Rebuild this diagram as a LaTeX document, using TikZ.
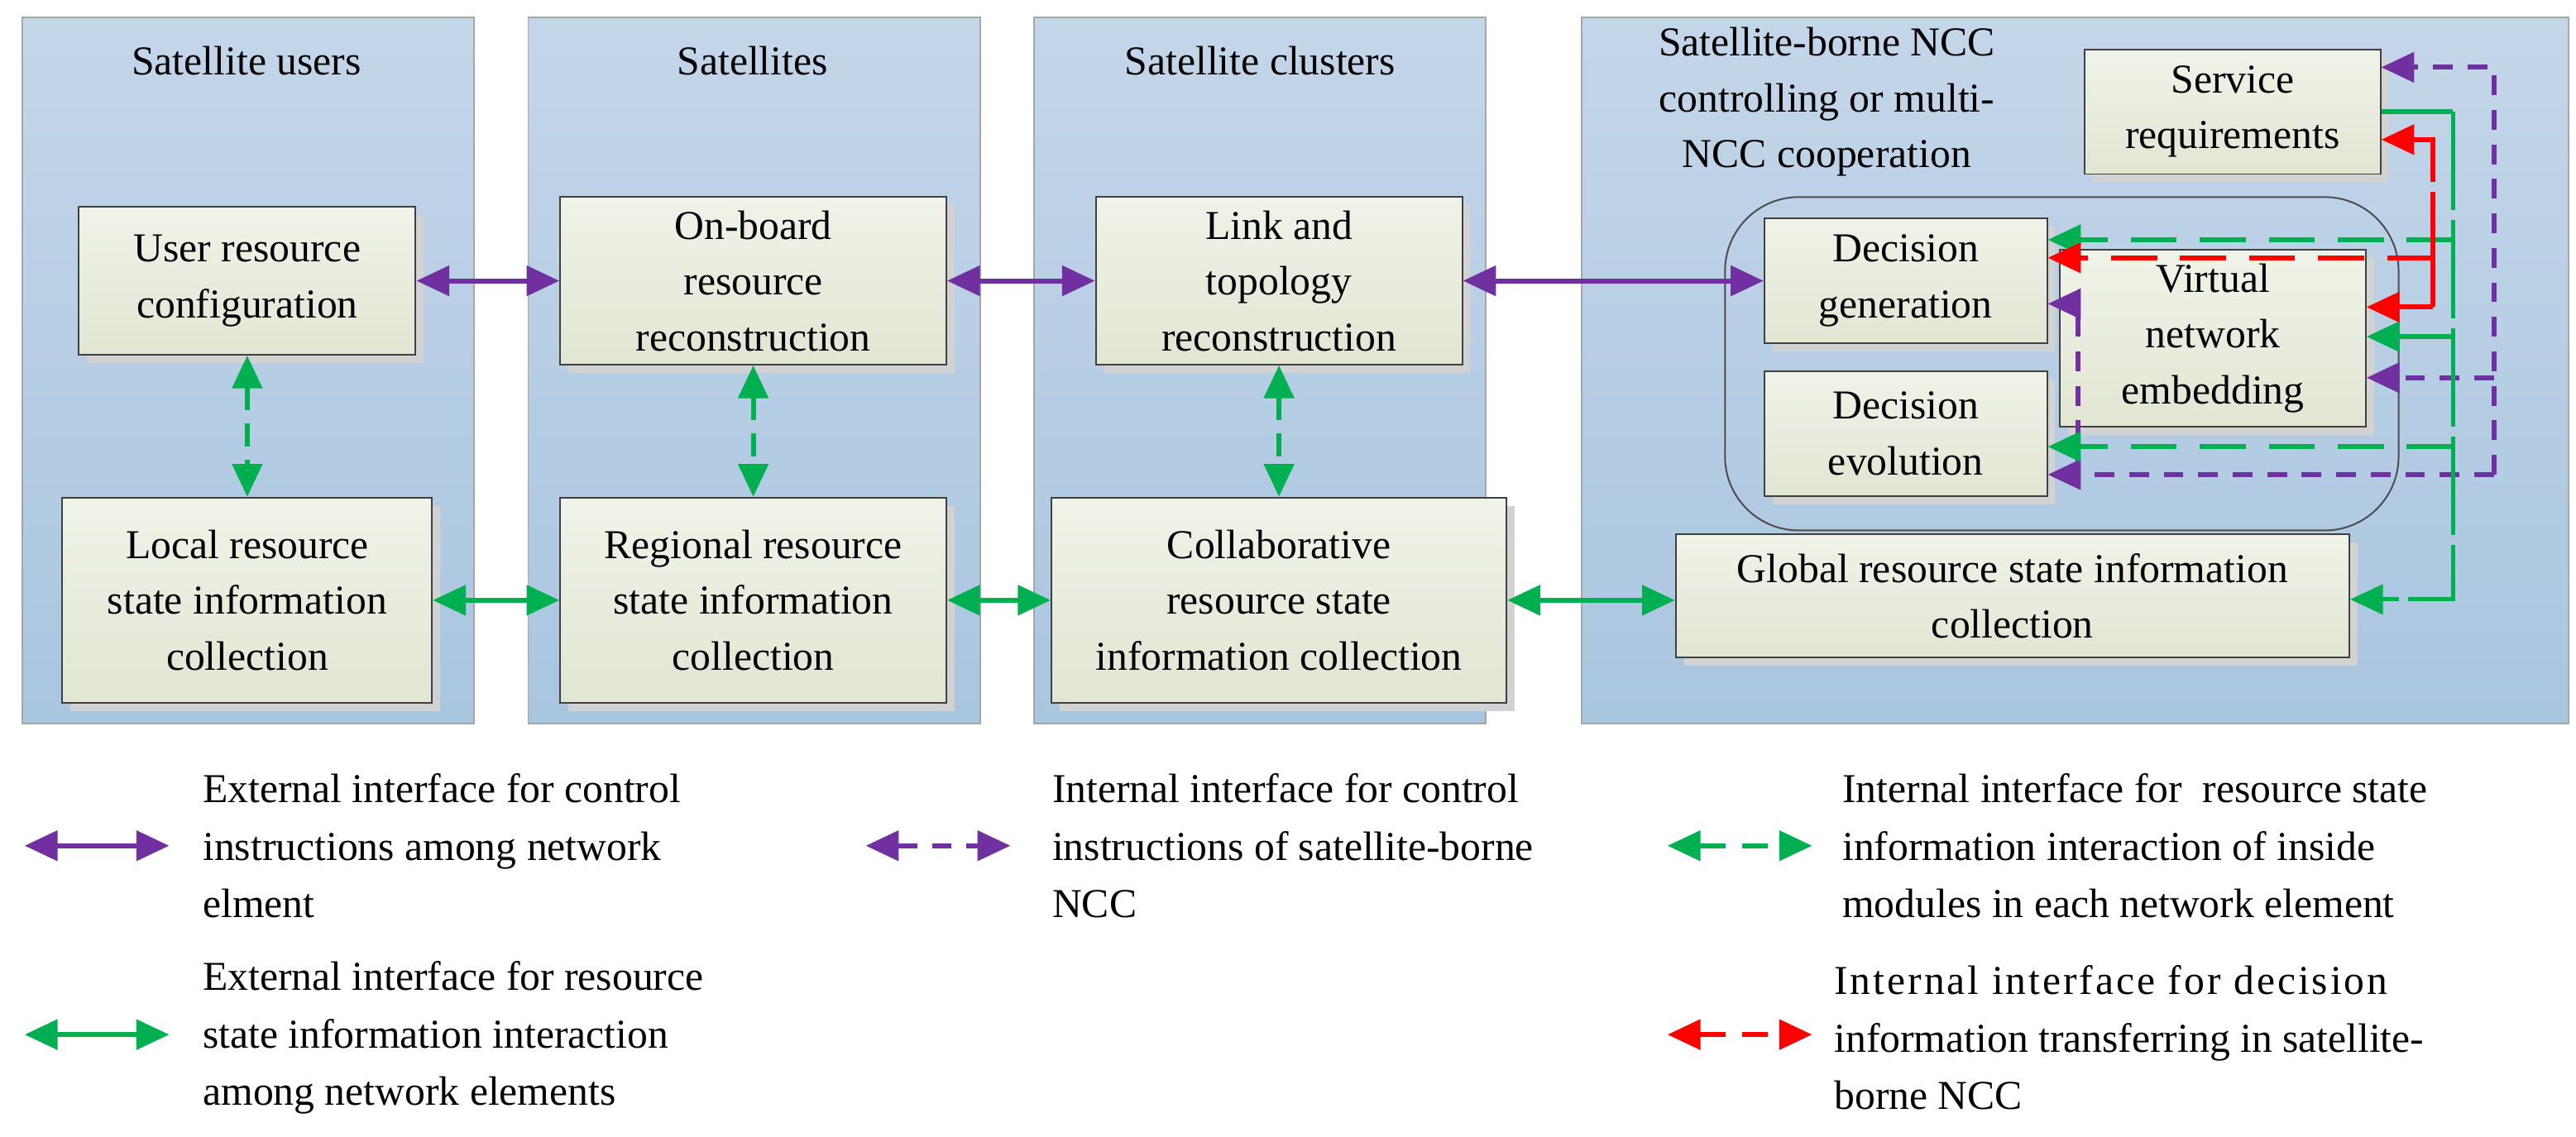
\documentclass[tikz,border=0pt]{standalone}
\usepackage{fontspec}
\setmainfont{Liberation Serif}
\usetikzlibrary{arrows.meta,shadows}
\definecolor{pur}{HTML}{7030A0}
\definecolor{grn}{HTML}{00B050}
\definecolor{rd}{HTML}{FF0000}
\definecolor{ptop}{HTML}{C4D6E9}
\definecolor{pbot}{HTML}{A9C6DF}
\definecolor{btop}{HTML}{F0F3E8}
\definecolor{bbot}{HTML}{E1E6D3}
\begin{document}
\begin{tikzpicture}[x=1pt,y=-1pt,
  font=\fontsize{25}{34}\selectfont,
  panel/.style={draw=gray!70,line width=1pt,top color=ptop,bottom color=pbot,inner sep=0pt,anchor=north west},
  box/.style={draw=black!75,line width=1pt,top color=btop,bottom color=bbot,align=center,inner sep=2pt,
    drop shadow={shadow xshift=5pt,shadow yshift=-5pt,fill=gray!35,opacity=1}},
  tip/.style={-{Triangle[length=20pt,width=18pt]}},
  dtip/.style={{Triangle[length=20pt,width=18pt]}-{Triangle[length=20pt,width=18pt]}},
  ps/.style={pur,line width=3pt},
  gs/.style={grn,line width=3pt},
  pd/.style={pur,line width=3pt,dash pattern=on 12pt off 9pt},
  gd/.style={grn,line width=3pt,dash pattern=on 28pt off 14pt},
  gl/.style={grn,line width=2.5pt,dash pattern=on 60pt off 6pt},
  rdd/.style={rd,line width=3pt,dash pattern=on 28pt off 14pt},
  leg/.style={anchor=west,align=left,font=\fontsize{25}{35}\selectfont}]
\useasboundingbox (0,0) rectangle (1568,692);
\fill[white] (0,0) rectangle (1568,692);
% panels
\node[panel,minimum width=275pt,minimum height=430pt] (p1) at (13,10) {};
\node[panel,minimum width=275pt,minimum height=430pt] (p2) at (321,10) {};
\node[panel,minimum width=275pt,minimum height=430pt] (p3) at (629,10) {};
\node[panel,minimum width=601pt,minimum height=430pt] (p4) at (962,10) {};
\node (t1) at (150,37) {Satellite users};
\node (t2) at (458,37) {Satellites};
\node (t3) at (767,37) {Satellite clusters};
\node[align=center] (t4) at (1112,62) {Satellite-borne NCC\\controlling or multi-\\NCC cooperation};
% container
\draw[black!70,line width=1pt,rounded corners=45pt] (1050,120) rectangle (1460,323);
% boxes
\node[box,minimum width=205pt,minimum height=90pt] (ur) at (150.5,171) {User resource\\configuration};
\node[box,minimum width=235pt,minimum height=102pt] (ob) at (458.5,171) {On-board\\resource\\reconstruction};
\node[box,minimum width=223pt,minimum height=102pt] (lt) at (778.5,171) {Link and\\topology\\reconstruction};
\node[box,minimum width=225pt,minimum height=125pt] (lc) at (150.5,365.5) {Local resource\\state information\\collection};
\node[box,minimum width=235pt,minimum height=125pt] (rc) at (458.5,365.5) {Regional resource\\state information\\collection};
\node[box,minimum width=277pt,minimum height=125pt] (cc) at (778.5,365.5) {Collaborative\\resource state\\information collection};
\node[box,minimum width=410pt,minimum height=75pt] (gc) at (1225,363) {Global resource state information\\collection};
\node[box,minimum width=172pt,minimum height=76pt] (dg) at (1160,171) {Decision\\generation};
\node[box,minimum width=172pt,minimum height=76pt] (de) at (1160,264) {Decision\\evolution};
\node[box,minimum width=186pt,minimum height=108pt] (vn) at (1347,206) {Virtual\\network\\embedding};
\node[box,minimum width=180pt,minimum height=76pt] (sr) at (1359,68) {Service\\requirements};
% external purple
\draw[ps,dtip] (ur.east) -- (ob.west);
\draw[ps,dtip] (ob.east) -- (lt.west);
\draw[ps,dtip] (lt.east) -- (dg.west);
% internal green vertical
\draw[gd,dtip,dash pattern=on 14pt off 8pt] (ur.south) -- (lc.north);
\draw[gd,dtip,dash pattern=on 14pt off 8pt] (ob.south) -- (rc.north);
\draw[gd,dtip,dash pattern=on 14pt off 8pt] (lt.south) -- (cc.north);
% external green
\draw[gs,dtip] (lc.east) -- (rc.west);
\draw[gs,dtip] (rc.east) -- (cc.west);
\draw[gs,dtip] (cc.east) -- (cc.east -| gc.west);
% purple bus
\coordinate (pa) at (1518,41);
\coordinate (pb) at (1518,289);
\coordinate (pc) at (1518,230);
\coordinate (pd1) at (1265,289);
\coordinate (pe) at (1265,185);
\draw[pd,tip] (pb) -- (pa) -- (pa -| sr.east);
\draw[pd,tip] (pb) -- (pb -| de.east);
\draw[pd,tip] (pc) -- (pc -| vn.east);
\draw[pd,tip] (pd1) -- (pe) -- (pe -| dg.east);
% green bus
\coordinate (ga) at (1493,68);
\coordinate (gb) at (1493,365);
\coordinate (gcq) at (1493,146);
\coordinate (gdq) at (1493,205);
\coordinate (geq) at (1493,272);
\draw[gs] (sr.east) -- (ga);
\draw[gl,tip] (ga) -- (gb) -- (gb -| gc.east);
\draw[gd,tip] (gcq) -- (gcq -| dg.east);
\draw[gs,tip] (gdq) -- (gdq -| vn.east);
\draw[gd,tip] (geq) -- (geq -| de.east);
% red bus
\coordinate (ra) at (1481,85);
\coordinate (rb) at (1481,157);
\coordinate (rcq) at (1481,187);
\draw[rd,line width=3pt,dash pattern=on 70pt off 6pt,tip] (rcq) -- (ra) -- (ra -| sr.east);
\draw[rdd,tip] (rb) -- (rb -| dg.east);
\draw[rd,line width=3pt,tip] (rcq) -- (rcq -| vn.east);
% legend
\coordinate (l1a) at (15,515); \coordinate (l1b) at (103,515);
\coordinate (l2a) at (527,515); \coordinate (l2b) at (615,515);
\coordinate (l3a) at (1015,515); \coordinate (l3b) at (1103,515);
\coordinate (l4a) at (15,630); \coordinate (l4b) at (103,630);
\coordinate (l5a) at (1015,630); \coordinate (l5b) at (1103,630);
\draw[ps,dtip] (l1a) -- (l1b);
\draw[pd,dtip] (l2a) -- (l2b);
\draw[gd,dtip,dash pattern=on 16pt off 10pt] (l3a) -- (l3b);
\draw[gs,dtip] (l4a) -- (l4b);
\draw[rdd,dtip,dash pattern=on 16pt off 10pt] (l5a) -- (l5b);
\node[leg] (x1) at (120,515) {External interface for control\\instructions among network\\elment};
\node[leg] (x2) at (637,515) {Internal interface for control\\instructions of satellite-borne\\NCC};
\node[leg] (x3) at (1118,515) {Internal interface for~ resource state\\information interaction of inside\\modules in each network element};
\node[leg] (x4) at (120,632) {External interface for resource\\state information interaction\\among network elements};
\node[leg] (x5) at (1113,632) {\addfontfeatures{LetterSpace=6}Internal interface for decision\\information transferring in satellite-\\borne NCC};
\end{tikzpicture}
\end{document}
